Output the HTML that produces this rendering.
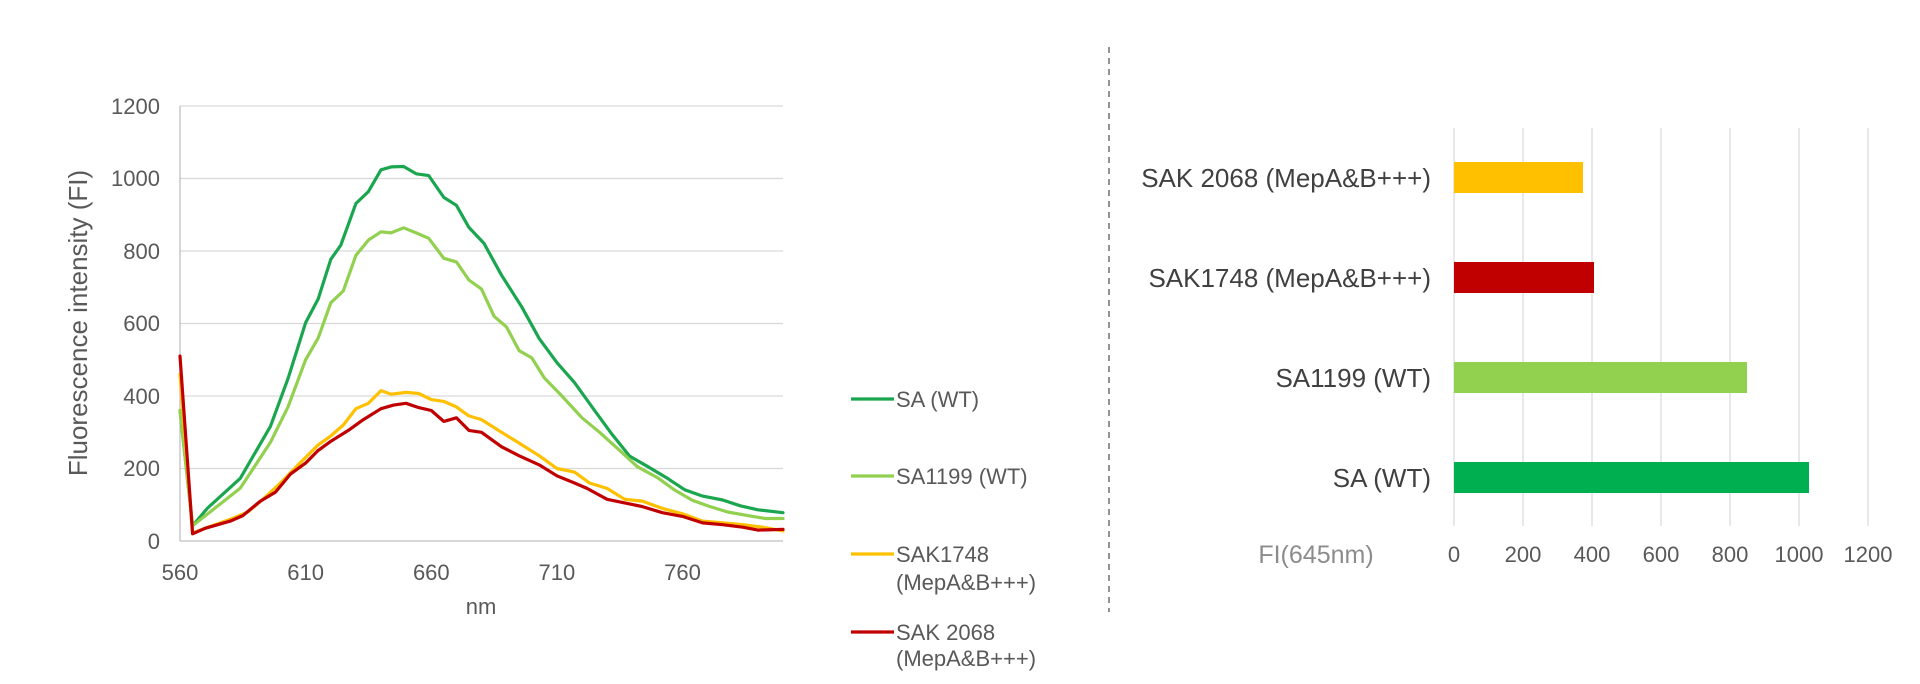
<!DOCTYPE html>
<html><head><meta charset="utf-8"><style>
html,body{margin:0;padding:0;background:#fff;}
svg{display:block;font-family:"Liberation Sans",sans-serif;}
</style></head><body>
<svg id="s" width="1920" height="684" viewBox="0 0 1920 684" xmlns="http://www.w3.org/2000/svg">
<g stroke="#d9d9d9" stroke-width="1.2">
<line x1="180" y1="106" x2="783" y2="106"/>
<line x1="180" y1="178.5" x2="783" y2="178.5"/>
<line x1="180" y1="251" x2="783" y2="251"/>
<line x1="180" y1="323.5" x2="783" y2="323.5"/>
<line x1="180" y1="396" x2="783" y2="396"/>
<line x1="180" y1="468.5" x2="783" y2="468.5"/>
</g>
<line x1="180" y1="106" x2="180" y2="541" stroke="#bfbfbf" stroke-width="1.3"/>
<line x1="180" y1="541" x2="783" y2="541" stroke="#bfbfbf" stroke-width="1.3"/>
<g fill="#595959" font-size="22" text-anchor="end">
<text x="160" y="114">1200</text><text x="160" y="186">1000</text><text x="160" y="259">800</text>
<text x="160" y="331">600</text><text x="160" y="404">400</text><text x="160" y="476">200</text><text x="160" y="549">0</text>
</g>
<g fill="#595959" font-size="22" text-anchor="middle">
<text x="180" y="580">560</text><text x="305.6" y="580">610</text><text x="431.3" y="580">660</text>
<text x="556.9" y="580">710</text><text x="682.5" y="580">760</text>
<text x="481" y="614">nm</text>
</g>
<text transform="translate(87,323) rotate(-90)" fill="#595959" font-size="26" text-anchor="middle">Fluorescence intensity (FI)</text>
<g id="curves" fill="none" stroke-width="3.2" stroke-linejoin="round" stroke-linecap="round"></g>
<g stroke-width="3.2">
<line x1="851" y1="399" x2="894" y2="399" stroke="#1aa64f"/>
<line x1="851" y1="476" x2="894" y2="476" stroke="#92d050"/>
<line x1="851" y1="554" x2="894" y2="554" stroke="#ffc000"/>
<line x1="851" y1="632" x2="894" y2="632" stroke="#c00000"/>
</g>
<g fill="#595959" font-size="22">
<text x="896" y="407">SA (WT)</text>
<text x="896" y="484">SA1199 (WT)</text>
<text x="896" y="562">SAK1748</text><text x="896" y="590">(MepA&amp;B+++)</text>
<text x="896" y="640">SAK 2068</text><text x="896" y="666">(MepA&amp;B+++)</text>
</g>
<line x1="1109" y1="47" x2="1109" y2="612" stroke="#595959" stroke-width="1.3" stroke-dasharray="6,5"/>
<g stroke="#d9d9d9" stroke-width="1.2">
<line x1="1454" y1="128" x2="1454" y2="526"/><line x1="1523" y1="128" x2="1523" y2="526"/>
<line x1="1592" y1="128" x2="1592" y2="526"/><line x1="1661" y1="128" x2="1661" y2="526"/>
<line x1="1730" y1="128" x2="1730" y2="526"/><line x1="1799" y1="128" x2="1799" y2="526"/>
<line x1="1868" y1="128" x2="1868" y2="526"/>
</g>
<rect x="1454" y="162" width="129" height="31" fill="#ffc000"/>
<rect x="1454" y="262" width="140" height="31" fill="#c00000"/>
<rect x="1454" y="362" width="293" height="31" fill="#92d050"/>
<rect x="1454" y="462" width="355" height="31" fill="#00b050"/>
<g fill="#404040" font-size="26" text-anchor="end">
<text x="1431" y="187">SAK 2068 (MepA&amp;B+++)</text>
<text x="1431" y="287">SAK1748 (MepA&amp;B+++)</text>
<text x="1431" y="387">SA1199 (WT)</text>
<text x="1431" y="487">SA (WT)</text>
</g>
<g fill="#595959" font-size="22" text-anchor="middle">
<text x="1454" y="562">0</text><text x="1523" y="562">200</text><text x="1592" y="562">400</text>
<text x="1661" y="562">600</text><text x="1730" y="562">800</text><text x="1799" y="562">1000</text><text x="1868" y="562">1200</text>
</g>
<text x="1316" y="563" fill="#8c8c8c" font-size="25" text-anchor="middle">FI(645nm)</text>
</svg>
<script>
var X=function(n){return 180+(n-560)*603/240},Y=function(v){return 541-v*0.3625};
var D=[
["#1aa64f",[[560,360],[565,42],[571,91],[584,173],[596,316],[603,448],[610,602],[615,668],[620,777],[624,816],[630,931],[635,964],[640,1024],[644,1032],[649,1033],[654,1013],[659,1008],[665,948],[670,926],[675,865],[681,821],[688,733],[696,646],[703,558],[710,492],[717,437],[725,360],[732,294],[739,234],[746,206],[754,173],[761,141],[768,124],[776,113],[783,97],[790,86],[800,78]]],
["#92d050",[[560,360],[565,42],[584,146],[596,272],[603,370],[610,500],[615,560],[620,657],[625,690],[630,788],[635,830],[640,853],[644,850],[649,864],[654,850],[659,835],[665,780],[670,770],[675,720],[680,695],[685,620],[690,590],[695,525],[700,505],[705,450],[712,400],[720,340],[727,300],[735,250],[742,205],[750,175],[757,140],[764,112],[771,95],[778,80],[786,70],[793,62],[800,62]]],
["#ffc000",[[560,460],[565,22],[570,35],[580,60],[587,80],[593,115],[600,160],[607,210],[615,265],[620,290],[625,320],[630,365],[635,380],[640,415],[644,405],[650,410],[655,407],[660,390],[665,385],[670,370],[675,345],[680,335],[688,300],[695,270],[703,235],[710,200],[717,190],[723,160],[730,145],[737,115],[744,110],[752,90],[760,75],[768,55],[776,50],[784,45],[792,38],[800,28]]],
["#c00000",[[560,510],[565,20],[570,35],[580,55],[585,70],[592,110],[598,135],[604,185],[610,215],[615,250],[620,275],[627,305],[633,335],[640,365],[645,375],[650,380],[655,368],[660,360],[665,330],[670,340],[675,305],[680,300],[688,260],[695,235],[703,210],[710,180],[717,160],[722,145],[730,115],[737,105],[744,95],[752,78],[760,68],[768,50],[776,45],[784,38],[790,30],[800,32]]]];
var g=document.getElementById("curves"),h="";
D.forEach(function(s){h+='<polyline stroke="'+s[0]+'" points="'+s[1].map(function(p){return X(p[0]).toFixed(1)+","+Y(p[1]).toFixed(1)}).join(" ")+'"/>';});
g.innerHTML=h;
</script>
</body></html>
